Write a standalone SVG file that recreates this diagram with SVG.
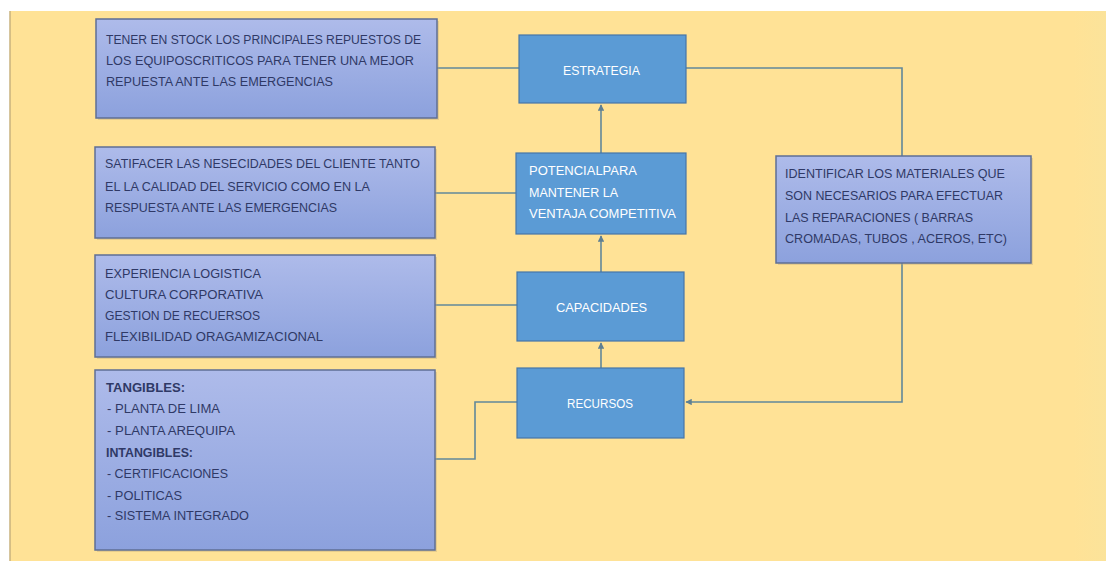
<svg xmlns="http://www.w3.org/2000/svg" width="1106" height="561" viewBox="0 0 1106 561">
<defs>
<linearGradient id="lg" x1="0" y1="0" x2="0" y2="1">
<stop offset="0" stop-color="#AEBBEA"/>
<stop offset="1" stop-color="#8CA1DD"/>
</linearGradient>
<linearGradient id="bgr" x1="0" y1="0" x2="1" y2="0">
<stop offset="0.97" stop-color="#FFE296"/>
<stop offset="1" stop-color="#FBE39A"/>
</linearGradient>
<marker id="arr" viewBox="0 0 10 10" refX="9" refY="5" markerWidth="4" markerHeight="4" orient="auto">
<path d="M0,0 L10,5 L0,10 z" fill="#5E7F92"/>
</marker>
</defs>
<style>
.lbox{fill:url(#lg);stroke:#5F6F95;stroke-width:1.5}
.shadow{fill:#B8A27A;opacity:0.35}
.cbox{fill:#5B9BD5;stroke:#4676A8;stroke-width:1.2}
.lt{font-family:"Liberation Sans",Arial,sans-serif;font-size:12.5px;fill:#2F3966}
.ct{font-family:"Liberation Sans",Arial,sans-serif;font-size:12.5px;fill:#FFFFFF}
.b{font-weight:bold}
.con{fill:none;stroke:#62889A;stroke-width:1.6}
</style>
<rect x="0" y="0" width="1106" height="561" fill="#FFFFFF"/>
<rect x="10" y="11" width="1096" height="550" fill="url(#bgr)"/>
<line x1="10" y1="11" x2="10" y2="561" stroke="#C9B27C" stroke-width="1.5"/>

<g id="connectors">
<path class="con" d="M437,68 H519"/>
<path class="con" d="M686,68 H902 V402 H686" marker-end="url(#arr)"/>
<path class="con" d="M435,193 H516"/>
<path class="con" d="M435,305 H517"/>
<path class="con" d="M435,459 H475 V402 H517"/>
<path class="con" d="M601,153 V105" marker-end="url(#arr)"/>
<path class="con" d="M601,272 V236" marker-end="url(#arr)"/>
<path class="con" d="M601,368 V343" marker-end="url(#arr)"/>
</g>

<g id="node-stock">
<rect class="shadow" x="98" y="21" width="341" height="99"/>
<rect class="lbox" x="96" y="19" width="341" height="99"/>
<text class="lt" x="106" y="44" textLength="315" lengthAdjust="spacingAndGlyphs">TENER EN STOCK LOS PRINCIPALES REPUESTOS DE</text>
<text class="lt" x="106" y="65" textLength="308" lengthAdjust="spacingAndGlyphs">LOS EQUIPOSCRITICOS PARA TENER UNA MEJOR</text>
<text class="lt" x="106" y="86" textLength="227" lengthAdjust="spacingAndGlyphs">REPUESTA ANTE LAS EMERGENCIAS</text>
</g>

<g id="node-satisfacer">
<rect class="shadow" x="97" y="149" width="340" height="91"/>
<rect class="lbox" x="95" y="147" width="340" height="91"/>
<text class="lt" x="105" y="168" textLength="315" lengthAdjust="spacingAndGlyphs">SATIFACER LAS NESECIDADES DEL  CLIENTE TANTO</text>
<text class="lt" x="105" y="191" textLength="265" lengthAdjust="spacingAndGlyphs">EL LA CALIDAD DEL SERVICIO COMO EN LA</text>
<text class="lt" x="105" y="212" textLength="232" lengthAdjust="spacingAndGlyphs">RESPUESTA ANTE LAS EMERGENCIAS</text>
</g>

<g id="node-experiencia">
<rect class="shadow" x="97" y="257" width="340" height="102"/>
<rect class="lbox" x="95" y="255" width="340" height="102"/>
<text class="lt" x="105" y="278" textLength="156" lengthAdjust="spacingAndGlyphs">EXPERIENCIA LOGISTICA</text>
<text class="lt" x="105" y="299" textLength="158" lengthAdjust="spacingAndGlyphs">CULTURA CORPORATIVA</text>
<text class="lt" x="105" y="320" textLength="155" lengthAdjust="spacingAndGlyphs">GESTION DE RECUERSOS</text>
<text class="lt" x="105" y="341" textLength="218" lengthAdjust="spacingAndGlyphs">FLEXIBILIDAD ORAGAMIZACIONAL</text>
</g>

<g id="node-tangibles">
<rect class="shadow" x="97" y="372" width="340" height="180"/>
<rect class="lbox" x="95" y="370" width="340" height="180"/>
<text class="lt b" x="106" y="392" textLength="79" lengthAdjust="spacingAndGlyphs">TANGIBLES:</text>
<text class="lt" x="107" y="413" textLength="113" lengthAdjust="spacingAndGlyphs">- PLANTA DE LIMA</text>
<text class="lt" x="107" y="435" textLength="128" lengthAdjust="spacingAndGlyphs">- PLANTA AREQUIPA</text>
<text class="lt b" x="106" y="457" textLength="87" lengthAdjust="spacingAndGlyphs">INTANGIBLES:</text>
<text class="lt" x="107" y="478" textLength="121" lengthAdjust="spacingAndGlyphs">- CERTIFICACIONES</text>
<text class="lt" x="107" y="500" textLength="75" lengthAdjust="spacingAndGlyphs">- POLITICAS</text>
<text class="lt" x="107" y="520" textLength="142" lengthAdjust="spacingAndGlyphs">- SISTEMA INTEGRADO</text>
</g>

<g id="node-estrategia">
<rect class="cbox" x="519" y="35" width="167" height="68"/>
<text class="ct" x="601.5" y="75" text-anchor="middle" textLength="77" lengthAdjust="spacingAndGlyphs">ESTRATEGIA</text>
</g>

<g id="node-potencial">
<rect class="cbox" x="516" y="153" width="170" height="81"/>
<text class="ct" x="529" y="175" textLength="108" lengthAdjust="spacingAndGlyphs">POTENCIALPARA</text>
<text class="ct" x="529" y="197" textLength="89" lengthAdjust="spacingAndGlyphs">MANTENER LA</text>
<text class="ct" x="529" y="218" textLength="147" lengthAdjust="spacingAndGlyphs">VENTAJA COMPETITIVA</text>
</g>

<g id="node-capacidades">
<rect class="cbox" x="517" y="272" width="167" height="69"/>
<text class="ct" x="601.5" y="312" text-anchor="middle" textLength="91" lengthAdjust="spacingAndGlyphs">CAPACIDADES</text>
</g>

<g id="node-recursos">
<rect class="cbox" x="517" y="368" width="167" height="70"/>
<text class="ct" x="600" y="408" text-anchor="middle" textLength="66" lengthAdjust="spacingAndGlyphs">RECURSOS</text>
</g>

<g id="node-identificar">
<rect class="shadow" x="778" y="158" width="255" height="107"/>
<rect class="lbox" x="776" y="156" width="255" height="107"/>
<text class="lt" x="785" y="178" textLength="220" lengthAdjust="spacingAndGlyphs">IDENTIFICAR LOS MATERIALES QUE</text>
<text class="lt" x="785" y="200" textLength="218" lengthAdjust="spacingAndGlyphs">SON NECESARIOS PARA EFECTUAR</text>
<text class="lt" x="785" y="222" textLength="188" lengthAdjust="spacingAndGlyphs">LAS REPARACIONES ( BARRAS</text>
<text class="lt" x="785" y="243" textLength="222" lengthAdjust="spacingAndGlyphs">CROMADAS, TUBOS , ACEROS, ETC)</text>
</g>
</svg>
